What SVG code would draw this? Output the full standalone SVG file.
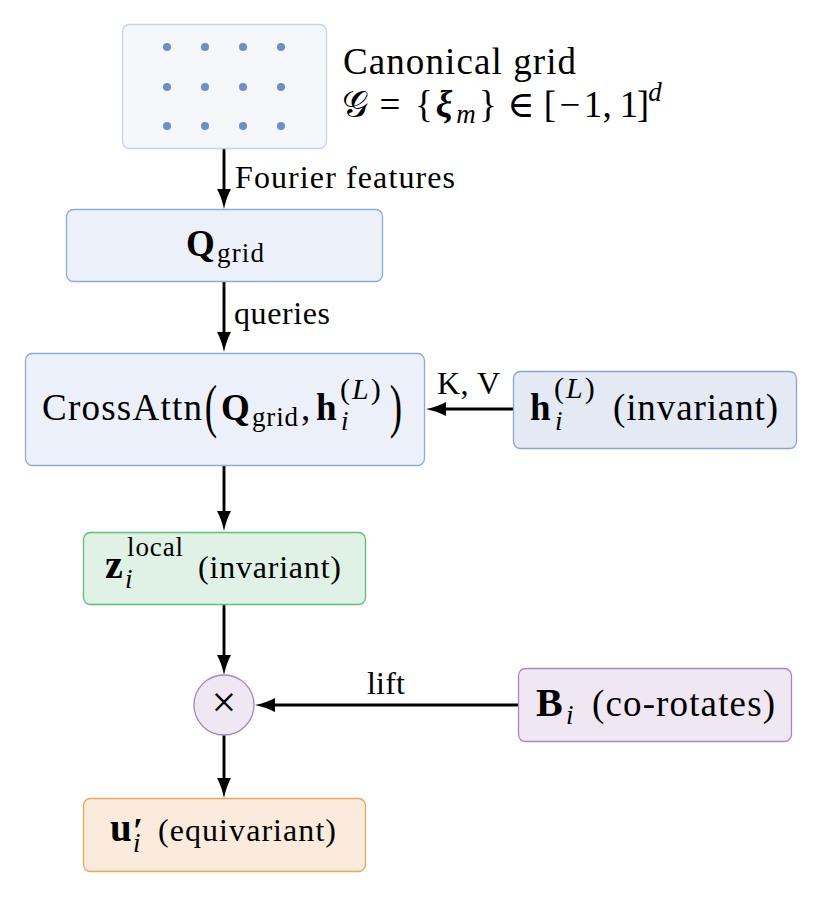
<svg xmlns="http://www.w3.org/2000/svg" width="823" height="897" viewBox="0 0 823 897" font-family="'Liberation Serif', 'DejaVu Serif', serif">
<style>
text{font-family:'Liberation Serif','DejaVu Serif',serif;fill:#000}
.m{font-size:37px}
.s{font-size:32px}
.ss{font-size:27px}
.sp{font-size:30px}
.lb{font-size:32px}
.b{font-weight:bold}
.it{font-style:italic}
.mid{text-anchor:middle}
.arr{stroke:#000;stroke-width:2.9;fill:none;marker-end:url(#ah)}
.box{stroke-width:1.3}
.blue{fill:#ecf0f8;stroke:#8eaad7}
</style>
<defs>
<marker id="ah" markerUnits="userSpaceOnUse" markerWidth="20" markerHeight="15" refX="8" refY="7.5" orient="auto">
<path d="M0,0.5 Q8,5 20,7.5 Q8,10 0,14.5 Z" fill="#000"/>
</marker>
</defs>
<rect width="823" height="897" fill="#fff"/>

<g id="connectors">
<line class="arr" x1="224" y1="149" x2="224" y2="197"/>
<line class="arr" x1="224" y1="282" x2="224" y2="340"/>
<line class="arr" x1="224" y1="466" x2="224" y2="519"/>
<line class="arr" x1="513" y1="409" x2="438" y2="409"/>
<line class="arr" x1="224" y1="605" x2="224" y2="663"/>
<line class="arr" x1="518" y1="705" x2="267" y2="705"/>
<line class="arr" x1="224" y1="735" x2="224" y2="786"/>
<text class="lb" x="235" y="188" textLength="220" lengthAdjust="spacing">Fourier features</text>
<text class="lb" x="234" y="324" textLength="96" lengthAdjust="spacing">queries</text>
<text class="lb" x="437" y="394" textLength="63" lengthAdjust="spacing">K, V</text>
<text class="lb" x="367" y="694" textLength="38" lengthAdjust="spacing">lift</text>
</g>

<g id="grid">
<rect class="box" x="122.5" y="24.5" width="204" height="124" rx="7" fill="#f5f7fb" stroke="#c3d3ea"/>
<g fill="#6b8fc7">
<circle cx="167" cy="47" r="4"/><circle cx="205" cy="47" r="4"/><circle cx="243" cy="47" r="4"/><circle cx="281" cy="47" r="4"/>
<circle cx="167" cy="87" r="4"/><circle cx="205" cy="87" r="4"/><circle cx="243" cy="87" r="4"/><circle cx="281" cy="87" r="4"/>
<circle cx="167" cy="126" r="4"/><circle cx="205" cy="126" r="4"/><circle cx="243" cy="126" r="4"/><circle cx="281" cy="126" r="4"/>
</g>
</g>

<g id="grid-label">
<text class="m" x="343" y="74" textLength="233" lengthAdjust="spacing">Canonical grid</text>
<text class="m mid" x="355" y="117">𝒢</text>
<text class="m mid" x="390" y="117">=</text>
<text class="m mid" x="424" y="117">{</text>
<text class="m mid b it" x="444" y="117">ξ</text>
<text class="ss mid it" x="466" y="123">m</text>
<text class="m mid" x="488" y="117">}</text>
<text class="m mid" x="521" y="117">∈</text>
<text class="m mid" x="550" y="117">[</text>
<text class="m mid" x="570" y="117">−</text>
<text class="m mid" x="593" y="117">1</text>
<text class="m mid" x="607" y="117">,</text>
<text class="m mid" x="629" y="117">1</text>
<text class="m mid" x="643" y="117">]</text>
<text class="ss mid it" x="655" y="101">d</text>
</g>

<g id="qgrid">
<rect class="box blue" x="66.5" y="209.5" width="316" height="72" rx="7"/>
<text class="m b" x="186" y="256">Q</text>
<text class="ss" x="217" y="262" textLength="47" lengthAdjust="spacing">grid</text>
</g>

<g id="crossattn">
<rect class="box blue" x="25.5" y="353.5" width="399" height="112" rx="7"/>
<text class="m" x="42" y="420" textLength="160" lengthAdjust="spacing">CrossAttn</text>
<text class="m mid" transform="translate(211 426) scale(1 1.6)">(</text>
<text class="m b" x="221" y="420">Q</text>
<text class="ss" x="252" y="426" textLength="46" lengthAdjust="spacing">grid</text>
<text class="m" x="301" y="420">,</text>
<text class="m b" x="316" y="420">h</text>
<text class="sp" x="340" y="399" letter-spacing="2">(<tspan class="it">L</tspan>)</text>
<text class="ss it" x="341" y="430">i</text>
<text class="m mid" transform="translate(396 426) scale(1 1.6)">)</text>
</g>

<g id="hL">
<rect class="box" x="513.5" y="371.5" width="283" height="77" rx="7" fill="#e4eaf4" stroke="#8ba5cc"/>
<text class="m b" x="530" y="420">h</text>
<text class="sp" x="554" y="398" letter-spacing="2">(<tspan class="it">L</tspan>)</text>
<text class="ss it" x="555" y="430">i</text>
<text class="m" x="613" y="420" textLength="165" lengthAdjust="spacing">(invariant)</text>
</g>

<g id="zlocal">
<rect class="box" x="83.5" y="532.5" width="282" height="72" rx="7" fill="#dff2e5" stroke="#5dbe7e"/>
<text class="m b" x="105" y="578" style="font-size:40px">z</text>
<text class="ss" x="127" y="556" textLength="56" lengthAdjust="spacing">local</text>
<text class="ss it" x="125" y="588">i</text>
<text class="s" x="198" y="578" textLength="143" lengthAdjust="spacing">(invariant)</text>
</g>

<g id="mult">
<circle cx="224" cy="705" r="30" fill="#efe8f2" stroke="#a787c5" stroke-width="1.3"/>
<text class="mid" x="224" y="717" style="font-size:44px">×</text>
</g>

<g id="Bi">
<rect class="box" x="518.5" y="668.5" width="273" height="73" rx="7" fill="#efe8f2" stroke="#a688c2"/>
<text class="m b" x="536" y="716" style="font-size:40px">B</text>
<text class="ss it" x="566" y="724">i</text>
<text class="m" x="592" y="716" textLength="183" lengthAdjust="spacing">(co-rotates)</text>
</g>

<g id="ui">
<rect class="box" x="83.5" y="798.5" width="282" height="73" rx="7" fill="#fbebdc" stroke="#eca55b"/>
<text class="m b" x="110" y="841" style="font-size:39px">u</text>
<text class="b" x="133" y="843" style="font-size:36px">′</text>
<text class="ss it" x="133" y="852">i</text>
<text class="s" x="158" y="841" textLength="178" lengthAdjust="spacing">(equivariant)</text>
</g>
</svg>
